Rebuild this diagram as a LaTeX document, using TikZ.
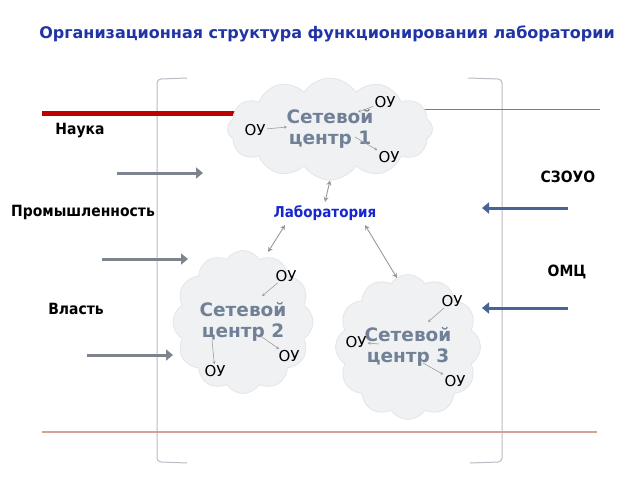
\documentclass[tikz,border=0pt]{standalone}
\usepackage{fontspec}
\setmainfont{DejaVu Sans}
\newfontfamily\narrowfont{DejaVu Sans Condensed}
\usepackage{xcolor}
\usepackage{tikz}
\usetikzlibrary{shapes.symbols, arrows.meta, positioning}
\definecolor{titleblue}{RGB}{32,52,165}
\definecolor{labblue}{RGB}{22,40,205}
\definecolor{cloudtext}{RGB}{112,128,150}
\definecolor{cloudfill}{RGB}{240,241,243}
\definecolor{cloudline}{RGB}{226,229,233}
\definecolor{grayarrow}{RGB}{125,132,142}
\definecolor{bluearrow}{RGB}{72,100,150}
\definecolor{darkred}{RGB}{192,0,0}
\definecolor{thinred}{RGB}{215,85,80}
\definecolor{paleline}{RGB}{212,160,152}
\definecolor{bracketgray}{RGB}{185,188,195}
\tikzstyle{netcloud} = [cloud, cloud puffs=12, cloud puff arc=115, cloud ignores aspect, draw=cloudline, fill=cloudfill, line width=0.8pt, align=center, text=cloudtext, font=\bfseries\fontsize{18.5}{21}\selectfont]
\tikzstyle{ou} = [font=\fontsize{15}{16}\selectfont, inner sep=1pt]
\tikzstyle{tinyarrow} = [draw=gray!75, line width=0.6pt, -{Stealth[length=3pt,width=3pt]}]
\tikzstyle{side} = [font=\narrowfont\bfseries\fontsize{15.5}{16}\selectfont]
\tikzstyle{inarrow} = [draw=grayarrow, line width=3pt, -{Triangle[length=7pt,width=11pt]}]
\tikzstyle{outarrow} = [draw=bluearrow, line width=3pt, -{Triangle[length=7pt,width=11pt]}]
\tikzstyle{dbl} = [draw=gray!80, line width=0.9pt, {Stealth[length=5pt,width=5pt]}-{Stealth[length=5pt,width=5pt]}]

\begin{document}
\begin{tikzpicture}[x=1pt, y=-1pt]
    \useasboundingbox (0,0) rectangle (640,480);
    \node[font=\bfseries\fontsize{16}{18}\selectfont, text=titleblue] (title) at (327,34) {Организационная структура функционирования лаборатории};

    % brackets and lines
    \draw[bracketgray, line width=1pt] (187,78) -- (161,79) to[out=180,in=90] (157,83) -- (157,458) to[out=-90,in=180] (161,462) -- (187,463);
    \draw[bracketgray, line width=1pt] (468,78) -- (498,79) to[out=0,in=90] (502,83) -- (502,458) to[out=-90,in=0] (498,462) -- (470,463);
    \draw[darkred, line width=5pt] (42,113) -- (290,113);
    \draw[thinred, line width=1pt] (290,109) -- (600,109);
    \draw[paleline, line width=2pt] (42,432) -- (597,432);

    % clouds
    \node[netcloud, minimum width=205, minimum height=102] (c1) at (330,129) {Сетевой\\центр 1};
    \node[netcloud, minimum width=140, minimum height=143] (c2) at (243,322) {Сетевой\\центр 2};
    \node[netcloud, minimum width=145, minimum height=145] (c3) at (408,347) {Сетевой\\центр 3};

    \node[font=\narrowfont\bfseries\fontsize{15}{16}\selectfont, text=labblue] (lab) at (325,213) {Лаборатория};
    \draw[dbl] (lab.north) -- (c1.south);
    \draw[dbl] (285,225) -- (268,252);
    \draw[dbl] (365,225) -- (397,278);

    % OU nodes
    \foreach \name/\x/\y in {o11/385/102, o12/255/130, o13/389/157,
                             o21/286/276, o22/215/371, o23/289/356,
                             o31/452/301, o32/356/342, o33/455/381}{
        \node[ou] (\name) at (\x,\y) {ОУ};
    }
    \coordinate (a11) at (358,112);
    \coordinate (a12) at (287,127);
    \coordinate (a13) at (355,137);
    \coordinate (a21) at (262,296);
    \coordinate (a22) at (212,340);
    \coordinate (a23) at (262,337);
    \coordinate (a31) at (428,322);
    \coordinate (a32) at (379,344);
    \coordinate (a33) at (423,363);
    \draw[tinyarrow] (o11) -- (a11);
    \draw[tinyarrow] (o12) -- (a12);
    \draw[tinyarrow] (a13) -- (o13);
    \draw[tinyarrow] (o21) -- (a21);
    \draw[tinyarrow] (a22) -- (o22);
    \draw[tinyarrow] (a23) -- (o23);
    \draw[tinyarrow] (o31) -- (a31);
    \draw[tinyarrow] (a32) -- (o32);
    \draw[tinyarrow] (a33) -- (o33);

    % sides
    \node[side] (nauka) at (80,131) {Наука};
    \node[side] (prom) at (83,212) {Промышленность};
    \node[side] (vlast) at (76,309) {Власть};
    \node[side] (szouo) at (568,177) {СЗОУО};
    \node[side] (omc) at (567,272) {ОМЦ};

    \foreach \n/\xa/\xb/\y in {i1/117/203/173, i2/102/188/259, i3/87/173/355}{
        \coordinate (\n s) at (\xa,\y);
        \coordinate (\n e) at (\xb,\y);
        \draw[inarrow] (\n s) -- (\n e);
    }
    \foreach \n/\y in {r1/208, r2/308}{
        \coordinate (\n s) at (568,\y);
        \coordinate (\n e) at (482,\y);
        \draw[outarrow] (\n s) -- (\n e);
    }
\end{tikzpicture}
\end{document}
